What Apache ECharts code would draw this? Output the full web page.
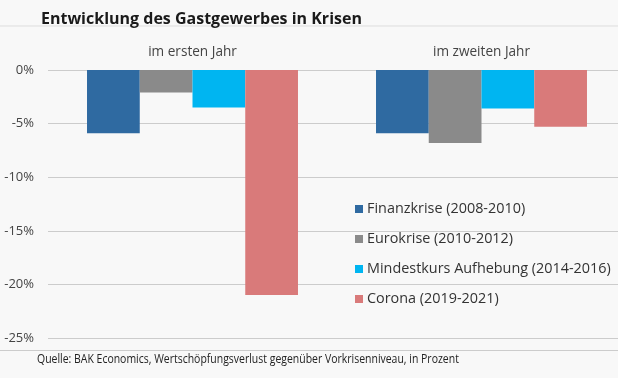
<!DOCTYPE html>
<html><head><meta charset="utf-8">
<script src="https://cdn.jsdelivr.net/npm/echarts@6/dist/echarts.min.js"></script>
<style>html,body{margin:0;padding:0;background:#f8f8f8;overflow:hidden;}#c{width:626px;height:378px;}</style>
</head><body><div id="c"></div>
<script>
const categories = ['im ersten Jahr', 'im zweiten Jahr'];
const finanzkrise = [-5.9, -5.9];
const eurokrise = [-2.1, -6.8];
const mindestkurs = [-3.5, -3.6];
const corona = [-21.0, -5.3];
const seriesNames = ['Finanzkrise (2008-2010)', 'Eurokrise (2010-2012)', 'Mindestkurs Aufhebung (2014-2016)', 'Corona (2019-2021)'];
const sourceText = 'Quelle: BAK Economics, Wertschöpfungsverlust gegenüber Vorkrisenniveau, in Prozent';
const colors = ['#2f6aa1', '#8a8a8a', '#00b5f1', '#d97a7a'];
const font = 'Open Sans';
const chart = echarts.init(document.getElementById('c'));
const data = [finanzkrise, eurokrise, mindestkurs, corona];
chart.setOption({
  backgroundColor: '#f8f8f8',
  animation: false,
  title: [
    { text: 'Entwicklung des Gastgewerbes in Krisen', left: 36, top: 6,
      textStyle: { fontFamily: font, fontSize: 16, fontWeight: 'bold', color: '#1a1a1a' } }
  ],
  graphic: [
    { type: 'line', shape: { x1: 0, y1: 26, x2: 626, y2: 26 }, style: { stroke: '#dddddd', lineWidth: 1 } },
    { type: 'line', shape: { x1: 0, y1: 350.5, x2: 626, y2: 350.5 }, style: { stroke: '#cccccc', lineWidth: 1 } },
    { type: 'text', x: 37, y: 359, scaleX: 0.805,
      style: { text: sourceText, font: '13px "Open Sans"', fill: '#222', verticalAlign: 'middle' } }
  ],
  legend: {
    orient: 'vertical', left: 350, top: 197, itemWidth: 8, itemHeight: 8, itemGap: 16,
    icon: 'rect',
    textStyle: { fontFamily: font, fontSize: 14.4, color: '#333', padding: [0, 0, 0, -1] },
    data: seriesNames
  },
  grid: { left: 48, top: 70, right: 0, height: 268 },
  xAxis: {
    type: 'category', position: 'top', data: categories,
    axisLine: { show: false }, axisTick: { show: false },
    axisLabel: { fontFamily: font, fontSize: 13.6, color: '#444', margin: 11 }
  },
  yAxis: {
    type: 'value', min: -25, max: 0, interval: 5,
    axisLabel: { fontFamily: font, fontSize: 13, color: '#444', margin: 14, formatter: v => v + '%' },
    splitLine: { lineStyle: { color: '#cccccc', width: 1 } },
    axisLine: { show: false }, axisTick: { show: false }
  },
  series: seriesNames.map((n, i) => ({
    name: n, type: 'bar', data: data[i], barGap: '0%', barCategoryGap: '27%',
    itemStyle: { color: colors[i] }
  }))
});
</script></body></html>
